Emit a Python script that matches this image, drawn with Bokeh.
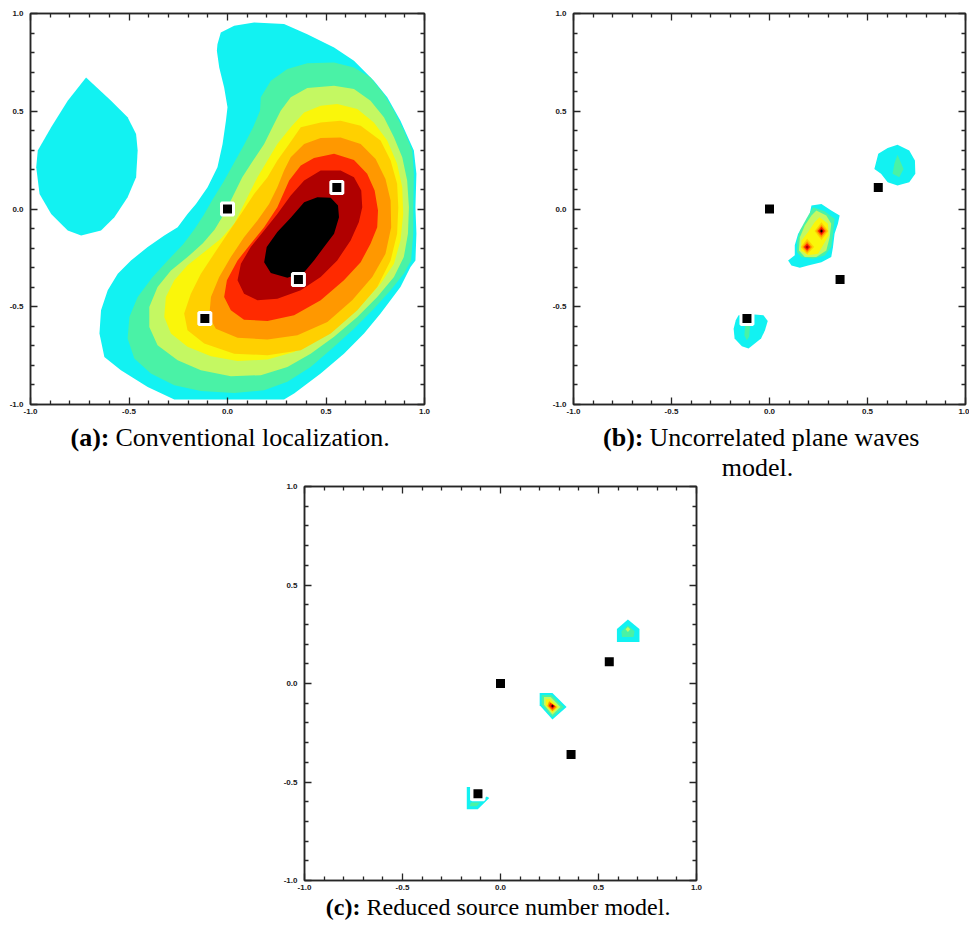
from bokeh.plotting import figure
from bokeh.models import Range1d, FixedTicker, LinearAxis, PrintfTickFormatter, Spacer
from bokeh.layouts import column, row
from bokeh.core.properties import value
from bokeh.embed import file_html
from bokeh.resources import INLINE

# ---------------- data ----------------
TICKS = [-1.0, -0.5, 0.0, 0.5, 1.0]
MINOR_TICKS = [-0.9, -0.8, -0.7, -0.6, -0.4, -0.3, -0.2, -0.1,
               0.1, 0.2, 0.3, 0.4, 0.6, 0.7, 0.8, 0.9]

# source positions (squares)
SRC_X = [0.0, 0.555, 0.36, -0.115]
SRC_Y = [0.0, 0.11, -0.36, -0.56]

CAPTION_TAGS = ["(a):", "(b):", "(c):"]
CAPTION_TEXTS = ["Conventional localization.", "Uncorrelated plane waves", "Reduced source number model."]
CAPTION_CONT = "model."

# colour levels (low -> high)
CYAN, MINT, YGREEN, YELLOW, GOLD, ORANGE, RED, DARKRED, BLACK = (
    "#12F2F2", "#4AF2A6", "#C4F862", "#FAF60A", "#FFD000", "#FF9800", "#FF2A00", "#B00000", "#000000")

# panel (a): contour band outlines, data coordinates
A_CYAN_MAIN = [(-0.054, 0.809), (-0.051, 0.843), (-0.034, 0.903), (0.034, 0.937), (0.135, 0.954),
               (0.287, 0.946), (0.405, 0.894), (0.541, 0.826), (0.642, 0.758), (0.743, 0.656),
               (0.811, 0.571), (0.878, 0.452), (0.946, 0.299), (0.959, 0.180), (0.954, 0.009),
               (0.959, -0.127), (0.954, -0.263), (0.929, -0.297), (0.878, -0.399), (0.777, -0.535),
               (0.693, -0.637), (0.591, -0.740), (0.473, -0.842), (0.338, -0.944), (0.287, -0.974),
               (-0.270, -0.974), (-0.405, -0.910), (-0.541, -0.825), (-0.625, -0.757), (-0.650, -0.637),
               (-0.642, -0.518), (-0.608, -0.416), (-0.557, -0.331), (-0.490, -0.263), (-0.405, -0.195),
               (-0.321, -0.135), (-0.253, -0.093), (-0.203, -0.025), (-0.160, 0.026), (-0.101, 0.111),
               (-0.051, 0.214), (-0.025, 0.333), (-0.008, 0.452), (0.0, 0.520), (-0.017, 0.622),
               (-0.042, 0.724)]
A_CYAN_ISLAND = [(-0.718, 0.673), (-0.591, 0.554), (-0.507, 0.469), (-0.464, 0.384), (-0.456, 0.299),
                 (-0.464, 0.163), (-0.507, 0.060), (-0.574, -0.042), (-0.642, -0.110), (-0.743, -0.135),
                 (-0.811, -0.110), (-0.895, -0.025), (-0.954, 0.077), (-0.971, 0.214), (-0.963, 0.299),
                 (-0.895, 0.418), (-0.811, 0.554)]
A_MINT = [(0.169, 0.571), (0.220, 0.656), (0.304, 0.716), (0.405, 0.745), (0.541, 0.750), (0.642, 0.724),
          (0.726, 0.673), (0.794, 0.588), (0.845, 0.503), (0.895, 0.401), (0.938, 0.299), (0.946, 0.180),
          (0.943, 0.009), (0.943, -0.127), (0.932, -0.263), (0.895, -0.331), (0.828, -0.416),
          (0.743, -0.510), (0.642, -0.612), (0.541, -0.705), (0.422, -0.808), (0.304, -0.884),
          (0.186, -0.927), (0.034, -0.941), (-0.135, -0.931), (-0.270, -0.901), (-0.389, -0.842),
          (-0.473, -0.765), (-0.507, -0.663), (-0.498, -0.552), (-0.456, -0.450), (-0.380, -0.348),
          (-0.300, -0.260), (-0.225, -0.180), (-0.165, -0.100), (-0.120, -0.030), (-0.075, 0.050),
          (-0.020, 0.140), (0.030, 0.230), (0.085, 0.330), (0.130, 0.418), (0.165, 0.503)]
A_YGREEN = [(0.270, 0.503), (0.321, 0.571), (0.405, 0.619), (0.541, 0.631), (0.642, 0.614), (0.726, 0.554),
            (0.794, 0.469), (0.845, 0.367), (0.887, 0.265), (0.912, 0.146), (0.921, 0.009), (0.916, -0.127),
            (0.895, -0.246), (0.845, -0.348), (0.760, -0.450), (0.659, -0.552), (0.541, -0.654),
            (0.422, -0.740), (0.304, -0.808), (0.169, -0.850), (0.017, -0.855), (-0.135, -0.825),
            (-0.253, -0.774), (-0.355, -0.697), (-0.397, -0.603), (-0.397, -0.501), (-0.355, -0.399),
            (-0.287, -0.314), (-0.203, -0.246), (-0.125, -0.175), (-0.065, -0.105), (-0.020, -0.030),
            (0.025, 0.060), (0.075, 0.163), (0.130, 0.248), (0.186, 0.333), (0.228, 0.418)]
A_YELLOW = [(0.321, 0.418), (0.389, 0.494), (0.473, 0.528), (0.557, 0.537), (0.659, 0.511), (0.743, 0.443),
            (0.811, 0.350), (0.861, 0.231), (0.887, 0.111), (0.892, -0.025), (0.878, -0.161), (0.845, -0.280),
            (0.777, -0.382), (0.693, -0.476), (0.591, -0.569), (0.473, -0.654), (0.338, -0.731),
            (0.203, -0.770), (0.051, -0.777), (-0.084, -0.753), (-0.203, -0.705), (-0.287, -0.637),
            (-0.321, -0.552), (-0.313, -0.450), (-0.270, -0.365), (-0.203, -0.288), (-0.118, -0.220),
            (-0.034, -0.152), (0.034, -0.076), (0.084, 0.026), (0.152, 0.163), (0.203, 0.248), (0.253, 0.333)]
A_GOLD = [(0.313, 0.333), (0.372, 0.418), (0.473, 0.443), (0.574, 0.452), (0.676, 0.426), (0.777, 0.350),
          (0.828, 0.248), (0.861, 0.129), (0.867, 0.009), (0.861, -0.127), (0.828, -0.263), (0.760, -0.399),
          (0.659, -0.518), (0.524, -0.637), (0.372, -0.722), (0.203, -0.748), (0.034, -0.740),
          (-0.118, -0.688), (-0.203, -0.620), (-0.220, -0.535), (-0.186, -0.433), (-0.135, -0.331),
          (-0.068, -0.229), (0.0, -0.127), (0.068, -0.025), (0.135, 0.077), (0.203, 0.163), (0.253, 0.248)]
A_ORANGE = [(0.287, 0.197), (0.321, 0.265), (0.389, 0.333), (0.473, 0.363), (0.574, 0.366), (0.676, 0.333),
            (0.752, 0.256), (0.802, 0.154), (0.828, 0.043), (0.831, -0.093), (0.802, -0.229), (0.735, -0.348),
            (0.633, -0.467), (0.507, -0.578), (0.355, -0.646), (0.203, -0.668), (0.051, -0.658),
            (-0.059, -0.612), (-0.093, -0.552), (-0.084, -0.450), (-0.042, -0.348), (0.017, -0.246),
            (0.084, -0.144), (0.152, -0.059), (0.211, 0.026), (0.253, 0.111)]
A_RED = [(0.313, 0.146), (0.372, 0.222), (0.439, 0.261), (0.541, 0.282), (0.642, 0.251), (0.709, 0.180),
         (0.747, 0.094), (0.764, -0.008), (0.760, -0.093), (0.726, -0.178), (0.676, -0.272), (0.591, -0.365),
         (0.473, -0.467), (0.338, -0.544), (0.203, -0.573), (0.084, -0.566), (0.017, -0.518),
         (-0.017, -0.450), (-0.003, -0.365), (0.051, -0.263), (0.118, -0.178), (0.186, -0.093), (0.253, 0.009)]
A_DARKRED = [(0.118, -0.195), (0.186, -0.110), (0.253, -0.025), (0.321, 0.069), (0.389, 0.146), (0.473, 0.197),
             (0.574, 0.197), (0.642, 0.163), (0.679, 0.094), (0.684, 0.009), (0.667, -0.067), (0.625, -0.161),
             (0.557, -0.263), (0.473, -0.348), (0.372, -0.416), (0.253, -0.459), (0.152, -0.467),
             (0.084, -0.433), (0.051, -0.365), (0.068, -0.280)]
A_BLACK = [(0.389, 0.035), (0.456, 0.060), (0.524, 0.057), (0.561, 0.018), (0.566, -0.042), (0.541, -0.127),
           (0.490, -0.195), (0.439, -0.263), (0.389, -0.323), (0.304, -0.352), (0.220, -0.328), (0.186, -0.272),
           (0.199, -0.195), (0.253, -0.118), (0.321, -0.045)]

# panel (b)
B_CYAN_NE = [(0.653, 0.329), (0.713, 0.299), (0.742, 0.248), (0.744, 0.180), (0.713, 0.137), (0.653, 0.120),
             (0.603, 0.137), (0.569, 0.180), (0.535, 0.205), (0.555, 0.282), (0.603, 0.312)]
B_MINT_NE = [(0.653, 0.278), (0.684, 0.205), (0.662, 0.163), (0.628, 0.180), (0.637, 0.231)]
B_CYAN_MID = [(0.214, 0.018), (0.265, 0.026), (0.315, -0.008), (0.358, -0.033), (0.349, -0.076),
              (0.332, -0.127), (0.324, -0.195), (0.315, -0.246), (0.265, -0.272), (0.197, -0.289),
              (0.155, -0.300), (0.112, -0.289), (0.095, -0.263), (0.129, -0.237), (0.129, -0.186),
              (0.146, -0.127), (0.180, -0.076), (0.205, -0.025)]
B_MINT_MID = [(0.222, 0.009), (0.281, -0.011), (0.332, -0.050), (0.324, -0.127), (0.315, -0.195),
              (0.281, -0.238), (0.222, -0.254), (0.163, -0.246), (0.140, -0.220), (0.142, -0.161),
              (0.155, -0.110), (0.188, -0.050)]
B_YGREEN_MID = [(0.239, -0.008), (0.290, -0.033), (0.315, -0.076), (0.307, -0.144), (0.290, -0.212),
                (0.239, -0.246), (0.180, -0.246), (0.150, -0.212), (0.155, -0.144), (0.180, -0.084),
                (0.214, -0.033)]
B_YELLOW_MID = [(0.256, -0.042), (0.298, -0.076), (0.302, -0.135), (0.273, -0.186), (0.248, -0.229),
                (0.197, -0.237), (0.160, -0.212), (0.163, -0.161), (0.197, -0.118), (0.231, -0.067)]
B_GOLD_P1 = [(0.265, -0.068), (0.300, -0.113), (0.265, -0.158), (0.230, -0.113)]
B_ORANGE_P1 = [(0.265, -0.080), (0.292, -0.113), (0.265, -0.146), (0.238, -0.113)]
B_RED_P1 = [(0.265, -0.090), (0.284, -0.113), (0.265, -0.136), (0.246, -0.113)]
B_DARKRED_P1 = [(0.265, -0.100), (0.276, -0.113), (0.265, -0.126), (0.254, -0.113)]
B_BLACK_P1 = [(0.265, -0.106), (0.271, -0.113), (0.265, -0.120), (0.259, -0.113)]
B_GOLD_P2 = [(0.192, -0.152), (0.228, -0.195), (0.192, -0.232), (0.160, -0.195)]
B_ORANGE_P2 = [(0.192, -0.165), (0.218, -0.195), (0.192, -0.223), (0.168, -0.195)]
B_RED_P2 = [(0.192, -0.175), (0.210, -0.195), (0.192, -0.214), (0.175, -0.195)]
B_DARKRED_P2 = [(0.192, -0.185), (0.201, -0.195), (0.192, -0.205), (0.183, -0.195)]
B_CYAN_SW = [(-0.158, -0.544), (-0.091, -0.539), (-0.031, -0.544), (-0.009, -0.573), (-0.023, -0.620),
             (-0.043, -0.663), (-0.107, -0.714), (-0.141, -0.702), (-0.178, -0.663), (-0.183, -0.612),
             (-0.172, -0.569)]
B_MINT_SW = [(-0.124, -0.595), (-0.099, -0.595), (-0.104, -0.654), (-0.116, -0.671), (-0.128, -0.646)]

# panel (c)
C_CYAN_NE = [(0.650, 0.325), (0.709, 0.277), (0.709, 0.211), (0.594, 0.211), (0.594, 0.277)]
C_MINT_NE = [(0.650, 0.295), (0.684, 0.265), (0.679, 0.236), (0.620, 0.236), (0.617, 0.265)]
C_YGREEN_NE = [(0.650, 0.287), (0.662, 0.275), (0.650, 0.262), (0.638, 0.275)]
C_CYAN_MID = [(0.200, -0.048), (0.265, -0.048), (0.337, -0.119), (0.265, -0.183), (0.200, -0.111)]
C_MINT_MID = [(0.210, -0.058), (0.260, -0.058), (0.323, -0.119), (0.265, -0.171), (0.210, -0.108)]
C_YGREEN_MID = [(0.222, -0.068), (0.256, -0.068), (0.306, -0.119), (0.265, -0.159), (0.222, -0.108)]
C_YELLOW_MID = [(0.231, -0.080), (0.253, -0.080), (0.295, -0.119), (0.265, -0.148), (0.231, -0.111)]
C_ORANGE_MID = [(0.248, -0.090), (0.288, -0.119), (0.265, -0.141), (0.239, -0.114)]
C_RED_MID = [(0.253, -0.098), (0.280, -0.115), (0.265, -0.132), (0.247, -0.114)]
C_DARKRED_MID = [(0.265, -0.105), (0.275, -0.114), (0.265, -0.124), (0.255, -0.114)]
C_BLACK_MID = [(0.265, -0.109), (0.270, -0.114), (0.265, -0.119), (0.260, -0.114)]
C_CYAN_SW = [(-0.172, -0.525), (-0.155, -0.525), (-0.155, -0.594), (-0.099, -0.594), (-0.070, -0.573),
             (-0.057, -0.581), (-0.116, -0.638), (-0.172, -0.638)]
C_MINT_SW = [(-0.150, -0.604), (-0.104, -0.604), (-0.121, -0.623), (-0.158, -0.623)]

LAYERS_A = [(CYAN, A_CYAN_MAIN), (CYAN, A_CYAN_ISLAND), (MINT, A_MINT), (YGREEN, A_YGREEN),
            (YELLOW, A_YELLOW), (GOLD, A_GOLD), (ORANGE, A_ORANGE), (RED, A_RED),
            (DARKRED, A_DARKRED), (BLACK, A_BLACK)]
LAYERS_B = [(CYAN, B_CYAN_NE), (MINT, B_MINT_NE), (CYAN, B_CYAN_MID), (MINT, B_MINT_MID),
            (YGREEN, B_YGREEN_MID), (YELLOW, B_YELLOW_MID),
            (GOLD, B_GOLD_P1), (ORANGE, B_ORANGE_P1), (RED, B_RED_P1), (DARKRED, B_DARKRED_P1),
            (BLACK, B_BLACK_P1), (GOLD, B_GOLD_P2), (ORANGE, B_ORANGE_P2), (RED, B_RED_P2),
            (DARKRED, B_DARKRED_P2), (CYAN, B_CYAN_SW), (MINT, B_MINT_SW)]
LAYERS_C = [(CYAN, C_CYAN_NE), (MINT, C_MINT_NE), (YGREEN, C_YGREEN_NE),
            (CYAN, C_CYAN_MID), (MINT, C_MINT_MID), (YGREEN, C_YGREEN_MID), (YELLOW, C_YELLOW_MID),
            (ORANGE, C_ORANGE_MID), (RED, C_RED_MID), (DARKRED, C_DARKRED_MID), (BLACK, C_BLACK_MID),
            (CYAN, C_CYAN_SW), (MINT, C_MINT_SW)]

AXIS_COLOR = "#262626"


def style_axis(ax, labels, standoff=4):
    ax.ticker = FixedTicker(ticks=TICKS, minor_ticks=MINOR_TICKS)
    ax.axis_line_color = AXIS_COLOR
    ax.axis_line_width = 1.5
    ax.major_tick_in = 7
    ax.major_tick_out = 0
    ax.minor_tick_in = 4
    ax.minor_tick_out = 0
    ax.major_tick_line_color = AXIS_COLOR
    ax.minor_tick_line_color = AXIS_COLOR
    ax.major_tick_line_width = 1.3
    ax.minor_tick_line_width = 1.3
    if labels:
        ax.formatter = PrintfTickFormatter(format="%.1f")
        ax.major_label_text_font = "Liberation Sans"
        ax.major_label_text_font_size = "8px"
        ax.major_label_text_font_style = "bold"
        ax.major_label_text_color = "#1a1a1a"
        ax.major_label_standoff = standoff
    else:
        ax.major_label_overrides = {t: "" for t in TICKS}
        ax.major_label_text_font_size = "1px"
        ax.major_label_standoff = 0


def make_panel(layers, width, height, left, right, top, bottom):
    p = figure(width=width, height=height, x_range=Range1d(-1, 1), y_range=Range1d(-1, 1),
               output_backend="svg", toolbar_location=None, x_axis_type=None, y_axis_type=None,
               min_border_left=left, min_border_right=right, min_border_top=top,
               min_border_bottom=bottom)
    p.outline_line_color = AXIS_COLOR
    p.outline_line_width = 1.5
    p.background_fill_color = "white"
    p.border_fill_color = "white"
    for color, poly in layers:
        p.patch([v[0] for v in poly], [v[1] for v in poly], fill_color=color, line_color=None)
    p.scatter(SRC_X, SRC_Y, marker="square", size=12, fill_color="black",
              line_color="white", line_width=3)
    for loc, lab, so in (("below", True, 4), ("left", True, 7), ("above", False, 0), ("right", False, 0)):
        ax = LinearAxis()
        style_axis(ax, lab, so)
        p.add_layout(ax, loc)
    return p


pa = make_panel(LAYERS_A, 432, 418, 30, 8, 13, 14)
pb = make_panel(LAYERS_B, 420, 418, 22, 4, 13, 14)
pc = make_panel(LAYERS_C, 424, 410, 22, 8, 3, 13)

SERIF = value("Liberation Serif")
FS_TOP = "26px"
FS_BOTTOM = "24px"


def caption_fig(width, height, y0):
    c = figure(width=width, height=height, x_range=Range1d(0, width), y_range=Range1d(y0, y0 + height),
               output_backend="svg", toolbar_location=None, x_axis_type=None, y_axis_type=None,
               min_border=0, outline_line_color=None)
    c.grid.visible = False
    return c


cap1 = caption_fig(969, 65, -20)
cap1.text(x=[109, 643], y=[26, 26], text=CAPTION_TAGS[:2], text_font=SERIF, text_font_style="bold",
          text_font_size=FS_TOP, text_align="right", text_baseline="alphabetic", text_color="black")
cap1.text(x=[115, 649], y=[26, 26], text=CAPTION_TEXTS[:2], text_font=SERIF,
          text_font_size=FS_TOP, text_align="left", text_baseline="alphabetic", text_color="black")
cap1.text(x=[757], y=[-4], text=[CAPTION_CONT], text_font=SERIF,
          text_font_size=FS_TOP, text_align="center", text_baseline="alphabetic", text_color="black")

cap2 = caption_fig(969, 40, -20)
cap2.text(x=[360], y=[7], text=CAPTION_TAGS[2:], text_font=SERIF, text_font_style="bold",
          text_font_size=FS_BOTTOM, text_align="right", text_baseline="alphabetic", text_color="black")
cap2.text(x=[366], y=[7], text=CAPTION_TEXTS[2:], text_font=SERIF,
          text_font_size=FS_BOTTOM, text_align="left", text_baseline="alphabetic", text_color="black")

layout = column(
    row(pa, Spacer(width=117, height=418), pb),
    cap1,
    row(Spacer(width=280, height=410), pc),
    cap2,
)

open("out.html", "w").write(file_html(layout, INLINE))
